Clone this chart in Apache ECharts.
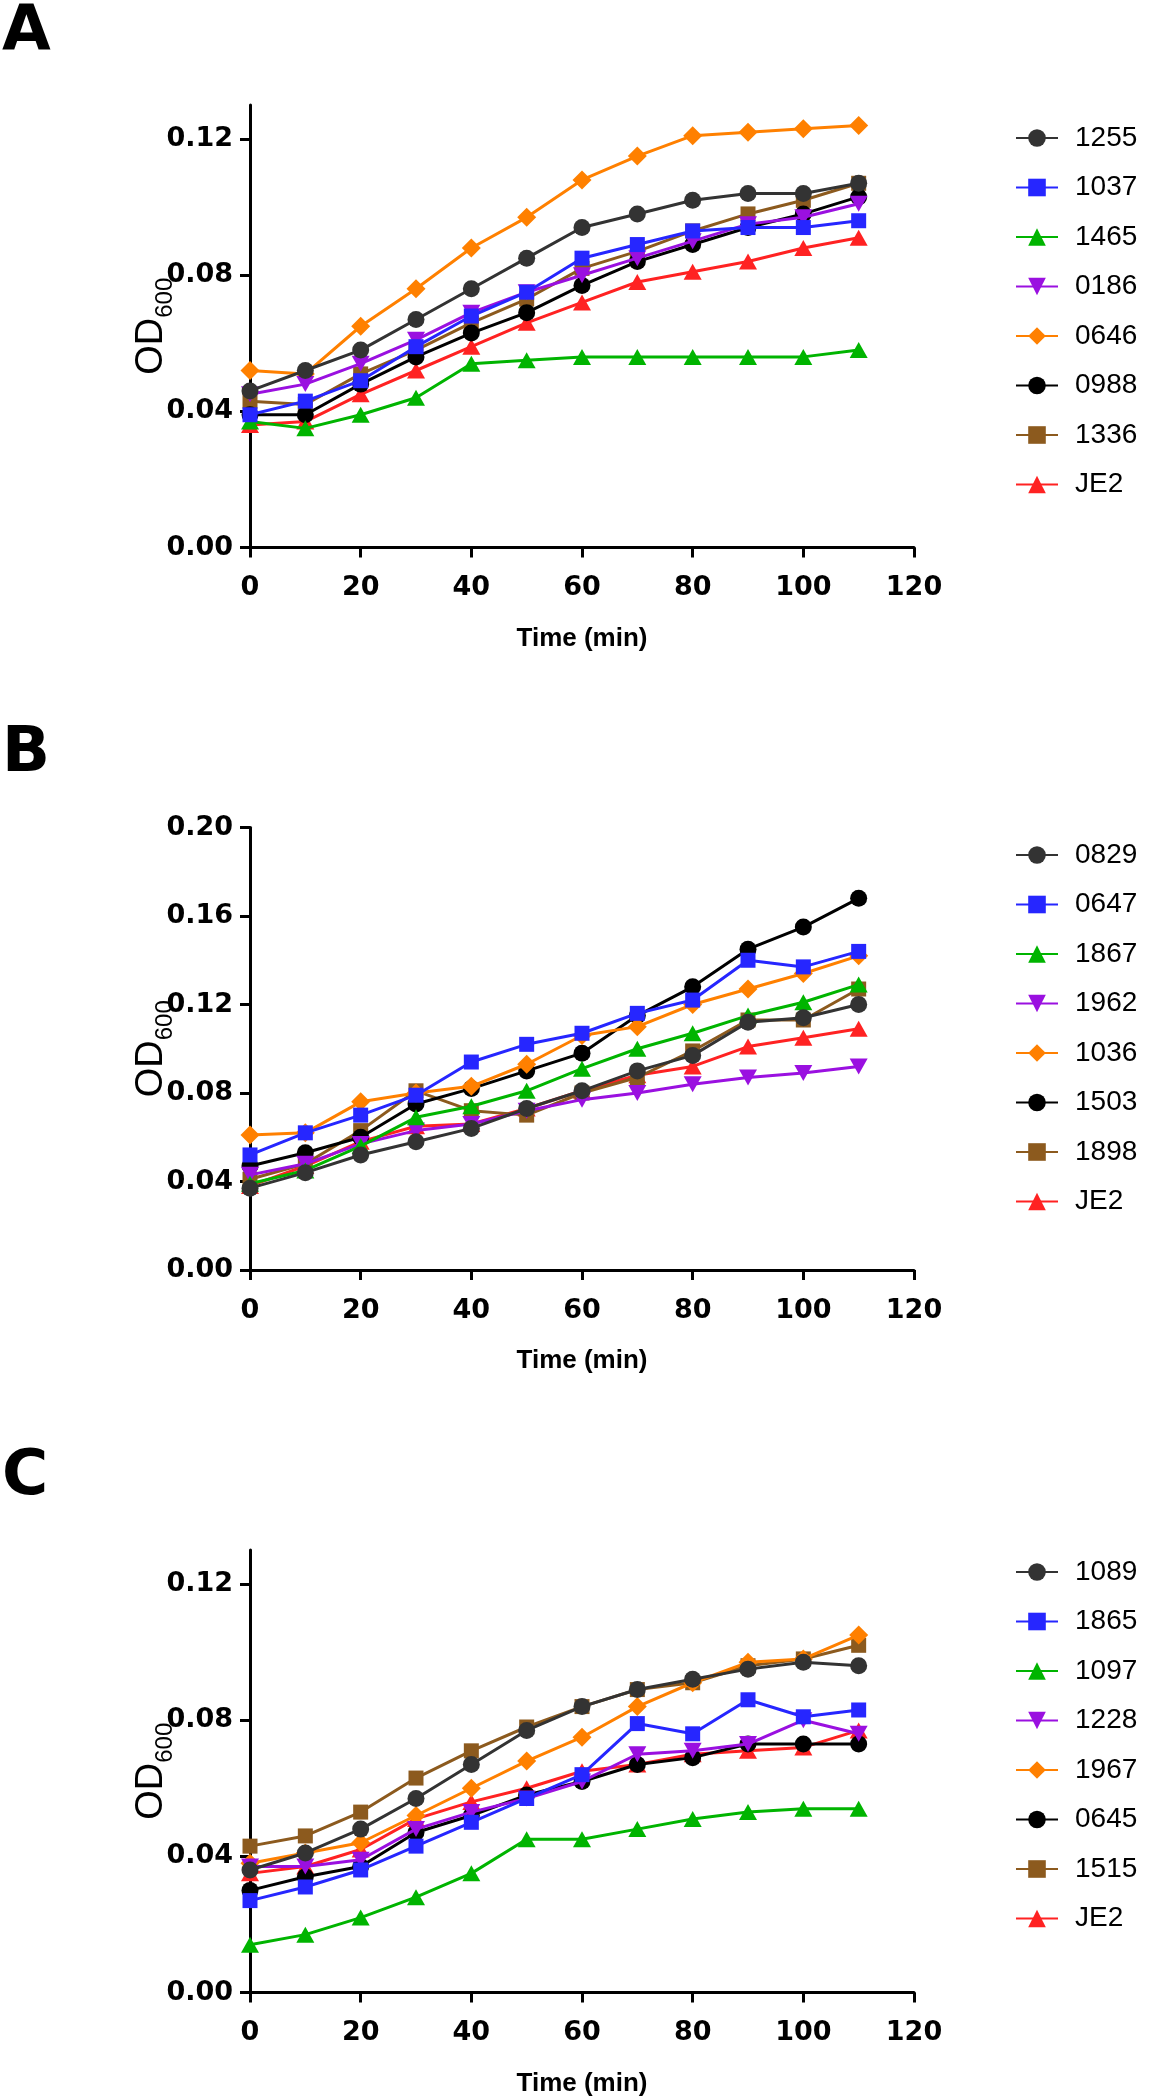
<!DOCTYPE html>
<html>
<head>
<meta charset="utf-8">
<script src="https://cdn.jsdelivr.net/npm/echarts@6/dist/echarts.min.js"></script>
<style>
html, body { margin: 0; padding: 0; background: #fff; }
#chart { width: 1170px; height: 2100px; }
</style>
</head>
<body>
<div id="chart"></div>
<script>
var times = [0, 10, 20, 30, 40, 50, 60, 70, 80, 90, 100, 110];

// panel A
var namesA = ['1255', '1037', '1465', '0186', '0646', '0988', '1336', 'JE2'];
var a1255 = [0.046, 0.052, 0.058, 0.067, 0.076, 0.085, 0.094, 0.098, 0.102, 0.104, 0.104, 0.107];
var a1037 = [0.039, 0.043, 0.049, 0.059, 0.068, 0.075, 0.085, 0.089, 0.093, 0.094, 0.094, 0.096];
var a1465 = [0.037, 0.035, 0.039, 0.044, 0.054, 0.055, 0.056, 0.056, 0.056, 0.056, 0.056, 0.058];
var a0186 = [0.045, 0.048, 0.054, 0.061, 0.069, 0.075, 0.080, 0.085, 0.090, 0.095, 0.097, 0.101];
var a0646 = [0.052, 0.051, 0.065, 0.076, 0.088, 0.097, 0.108, 0.115, 0.121, 0.122, 0.123, 0.124];
var a0988 = [0.039, 0.039, 0.048, 0.056, 0.063, 0.069, 0.077, 0.084, 0.089, 0.094, 0.098, 0.103];
var a1336 = [0.043, 0.042, 0.051, 0.058, 0.066, 0.073, 0.082, 0.087, 0.093, 0.098, 0.102, 0.107];
var aJE2  = [0.036, 0.037, 0.045, 0.052, 0.059, 0.066, 0.072, 0.078, 0.081, 0.084, 0.088, 0.091];
var yTicksA = [0, 0.04, 0.08, 0.12];

// panel B
var namesB = ['0829', '0647', '1867', '1962', '1036', '1503', '1898', 'JE2'];
var b0829 = [0.037, 0.044, 0.052, 0.058, 0.064, 0.073, 0.081, 0.090, 0.097, 0.112, 0.114, 0.120];
var b0647 = [0.052, 0.062, 0.070, 0.079, 0.094, 0.102, 0.107, 0.116, 0.122, 0.140, 0.137, 0.144];
var b1867 = [0.039, 0.045, 0.056, 0.069, 0.074, 0.081, 0.091, 0.100, 0.107, 0.115, 0.121, 0.129];
var b1962 = [0.043, 0.048, 0.057, 0.063, 0.066, 0.072, 0.077, 0.080, 0.084, 0.087, 0.089, 0.092];
var b1036 = [0.061, 0.062, 0.076, 0.080, 0.083, 0.093, 0.106, 0.110, 0.120, 0.127, 0.134, 0.142];
var b1503 = [0.047, 0.053, 0.060, 0.075, 0.082, 0.090, 0.098, 0.115, 0.128, 0.145, 0.155, 0.168];
var b1898 = [0.041, 0.048, 0.063, 0.081, 0.072, 0.070, 0.080, 0.087, 0.099, 0.113, 0.113, 0.127];
var bJE2  = [0.038, 0.047, 0.058, 0.065, 0.066, 0.073, 0.081, 0.088, 0.092, 0.101, 0.105, 0.109];
var yTicksB = [0, 0.04, 0.08, 0.12, 0.16, 0.20];

// panel C
var namesC = ['1089', '1865', '1097', '1228', '1967', '0645', '1515', 'JE2'];
var c1089 = [0.036, 0.041, 0.048, 0.057, 0.067, 0.077, 0.084, 0.089, 0.092, 0.095, 0.097, 0.096];
var c1865 = [0.027, 0.031, 0.036, 0.043, 0.050, 0.057, 0.064, 0.079, 0.076, 0.086, 0.081, 0.083];
var c1097 = [0.014, 0.017, 0.022, 0.028, 0.035, 0.045, 0.045, 0.048, 0.051, 0.053, 0.054, 0.054];
var c1228 = [0.037, 0.037, 0.039, 0.048, 0.053, 0.057, 0.062, 0.070, 0.071, 0.073, 0.080, 0.076];
var c1967 = [0.038, 0.041, 0.044, 0.052, 0.060, 0.068, 0.075, 0.084, 0.091, 0.097, 0.098, 0.105];
var c0645 = [0.030, 0.034, 0.037, 0.047, 0.052, 0.058, 0.062, 0.067, 0.069, 0.073, 0.073, 0.073];
var c1515 = [0.043, 0.046, 0.053, 0.063, 0.071, 0.078, 0.084, 0.089, 0.091, 0.096, 0.098, 0.102];
var cJE2  = [0.035, 0.037, 0.042, 0.051, 0.056, 0.060, 0.065, 0.067, 0.070, 0.071, 0.072, 0.077];
var yTicksC = [0, 0.04, 0.08, 0.12];

// same colour / marker for the n-th strain of every panel
var colors = ['#333333', '#2626ff', '#00b400', '#9a10e0', '#ff8000', '#000000', '#8c5a1e', '#ff2222'];
var symbols = ['circle', 'rect', 'triangle', 'path://M0,0L10,0L5,9Z', 'diamond', 'circle', 'rect', 'triangle'];
var symbolSizes = [17, 15, [18, 16], [18, 16], 19, 17, 15, [18, 16]];

var panels = [
    { letter: 'A', names: namesA, values: [a1255, a1037, a1465, a0186, a0646, a0988, a1336, aJE2], max: 0.13, ticks: yTicksA },
    { letter: 'B', names: namesB, values: [b0829, b0647, b1867, b1962, b1036, b1503, b1898, bJE2], max: 0.20, ticks: yTicksB },
    { letter: 'C', names: namesC, values: [c1089, c1865, c1097, c1228, c1967, c0645, c1515, cJE2], max: 0.13, ticks: yTicksC }
];

var step = 722.5;
var plotTop = 105;
var plotHeight = 442.5;
var font = 'Liberation Sans';
var tickFont = 'DejaVu Sans';

var option = {
    animation: false,
    backgroundColor: '#fff',
    grid: [],
    xAxis: [],
    yAxis: [],
    legend: [],
    graphic: [],
    series: []
};

panels.forEach(function (p, k) {
    var top = plotTop + k * step;
    option.grid.push({ left: 250, width: 664, top: top, height: plotHeight });
    option.xAxis.push({
        type: 'value',
        gridIndex: k,
        min: 0,
        max: 120,
        interval: 20,
        axisLine: { show: true, lineStyle: { color: '#000', width: 3 } },
        axisTick: { show: true, length: 10, lineStyle: { color: '#000', width: 3 } },
        axisLabel: { margin: 27, color: '#000', fontFamily: tickFont, fontWeight: 'bold', fontSize: 27 },
        splitLine: { show: false },
        name: 'Time (min)',
        nameLocation: 'middle',
        nameGap: 78,
        nameMoveOverlap: false,
        nameTextStyle: { color: '#000', fontFamily: font, fontWeight: 'bold', fontSize: 26 }
    });
    option.yAxis.push({
        type: 'value',
        gridIndex: k,
        min: 0,
        max: p.max,
        axisLine: { show: true, lineStyle: { color: '#000', width: 3 } },
        axisTick: { show: true, length: 10, customValues: p.ticks, lineStyle: { color: '#000', width: 3 } },
        axisLabel: {
            customValues: p.ticks,
            margin: 17,
            color: '#000',
            fontFamily: tickFont,
            fontWeight: 'bold',
            fontSize: 27,
            formatter: function (v) { return v.toFixed(2); }
        },
        splitLine: { show: false },
        name: '{a|OD}{b|600}',
        nameLocation: 'middle',
        nameRotate: 90,
        nameGap: 73,
        nameMoveOverlap: false,
        nameTextStyle: {
            rich: {
                a: { fontFamily: font, fontSize: 38, color: '#000', lineHeight: 44, verticalAlign: 'top' },
                b: { fontFamily: font, fontSize: 24, color: '#000', lineHeight: 24, verticalAlign: 'bottom' }
            }
        }
    });
    option.legend.push({
        orient: 'vertical',
        left: 1010,
        top: 119 + k * 717,
        data: p.names,
        selectedMode: false,
        itemWidth: 42,
        itemHeight: 22,
        itemGap: 21.5,
        textStyle: { color: '#000', fontFamily: font, fontSize: 28, padding: [0, 0, 0, 12] }
    });
    option.graphic.push({
        type: 'text',
        left: 2,
        top: 1 + k * step,
        style: { text: p.letter, font: 'bold 63px "DejaVu Sans"', fill: '#000' }
    });
    p.values.forEach(function (vals, j) {
        option.series.push({
            type: 'line',
            name: p.names[j],
            xAxisIndex: k,
            yAxisIndex: k,
            data: times.map(function (t, i) { return [t, vals[i]]; }),
            symbol: symbols[j],
            symbolSize: symbolSizes[j],
            z: 20 - j,
            itemStyle: { color: colors[j] },
            lineStyle: { color: colors[j], width: 3 }
        });
    });
});

var myChart = echarts.init(document.getElementById('chart'));
myChart.setOption(option);
</script>
</body>
</html>
